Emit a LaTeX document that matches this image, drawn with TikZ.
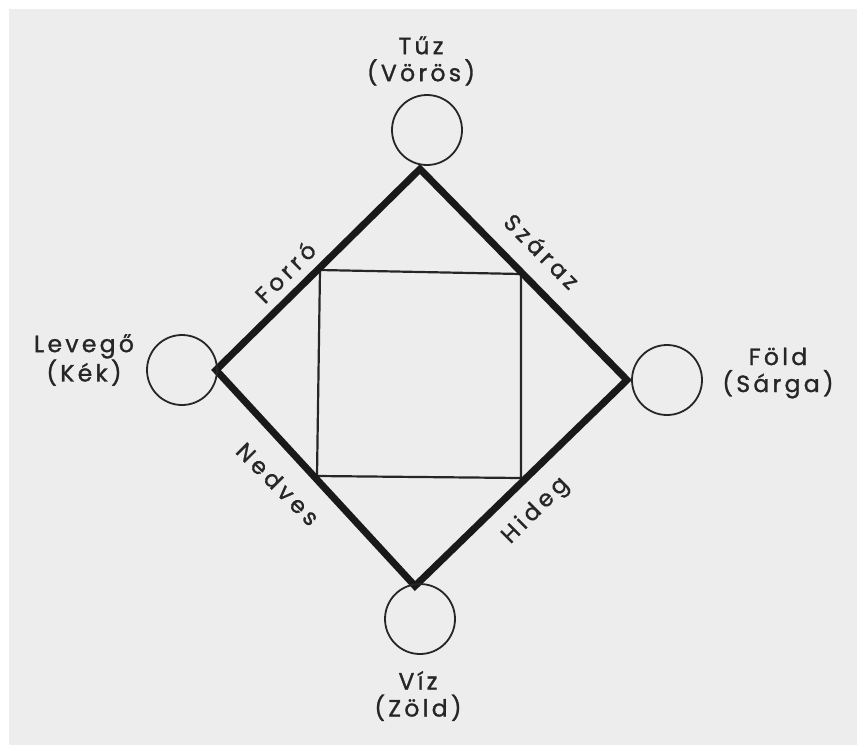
\documentclass[tikz,border=0pt]{standalone}
\usepackage{fontspec}
\setmainfont[LetterSpace=14,FakeBold=1.2]{Poppins}
\newfontfamily\qualfont[LetterSpace=18,FakeBold=1.2]{Poppins}
\begin{document}
\begin{tikzpicture}[x=1pt,y=-1pt,
  elem/.style={circle,draw=black!85,line width=1.8pt,minimum size=70pt,inner sep=0pt},
  lbl/.style={font=\fontsize{23.5}{27}\selectfont,text=black!85,align=center,inner sep=0pt},
  quality/.style={font=\qualfont\fontsize{23}{26}\selectfont,text=black!85,inner sep=0pt},
  thickedge/.style={line width=7pt,draw=black!90,line cap=round,line join=miter},
  thinedge/.style={line width=2.2pt,draw=black!85}]
\useasboundingbox (0,0) rectangle (857,745);
\fill[white] (0,0) rectangle (857,745);
\fill[black!7] (9,9) rectangle (857,745);
% diamond corners
\coordinate (T) at (420,169);
\coordinate (R) at (627,380);
\coordinate (B) at (415,586);
\coordinate (L) at (216,370);
% inner square
\coordinate (s1) at (320,270);
\coordinate (s2) at (521,274);
\coordinate (s3) at (521,478);
\coordinate (s4) at (317,476);
\draw[thinedge] (s1) -- (s2) -- (s3) -- (s4) -- cycle;
\draw[thickedge] (T) -- (R) -- (B) -- (L) -- cycle;
% element circles
\node[elem] (fire) at (427,130) {};
\node[elem] (air) at (182,370) {};
\node[elem] (earth) at (667,380) {};
\node[elem] (water) at (420,619) {};
% element labels
\node[lbl] (fireT) at (421,61) {Tűz\\(Vörös)};
\node[lbl] (airT) at (84,360) {Levegő\\(Kék)};
\node[lbl] (earthT) at (778,373) {Föld\\(Sárga)};
\node[lbl] (waterT) at (418,696) {Víz\\(Zöld)};
% qualities
\node[quality,rotate=45] (hot) at (285,272) {Forró};
\node[quality,rotate=-45] (dry) at (542,251) {Száraz};
\node[quality,rotate=-45] (wet) at (278,484) {Nedves};
\node[quality,rotate=45] (cold) at (536,511) {Hideg};
\end{tikzpicture}
\end{document}
